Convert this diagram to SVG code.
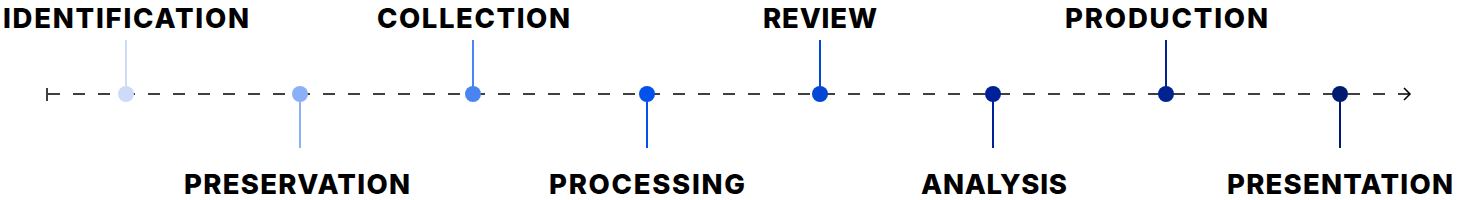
<svg xmlns="http://www.w3.org/2000/svg" width="1459" height="200" viewBox="0 0 1459 200">
<style>
.lbl{font-family:Inter,"Liberation Sans",Arial,sans-serif;font-weight:800;font-size:27.5px;fill:#000;text-anchor:middle}
.stem{stroke-width:2;fill:none}
.axis{stroke:#000;stroke-width:1.5;fill:none}
</style>
<rect width="1459" height="200" fill="#fff"/>
<g id="connectors">
<line class="axis" x1="48" y1="94" x2="1410" y2="94" stroke-dasharray="12 13"/>
<line class="axis" x1="47" y1="88" x2="47" y2="101" stroke-width="1.8"/>
<polyline class="axis" points="1404,88 1410,94 1404,100" stroke-width="1.8"/>
</g>
<g id="identification">
<line class="stem" x1="126" y1="40" x2="126" y2="94" stroke="#cddbf9"/>
<circle cx="126" cy="94" r="8" fill="#cddbf9"/>
<text class="lbl" x="126" y="28" textLength="246" lengthAdjust="spacing">IDENTIFICATION</text>
</g>
<g id="preservation">
<line class="stem" x1="300" y1="94" x2="300" y2="148" stroke="#8cb0f8"/>
<circle cx="300" cy="94" r="8" fill="#8cb0f8"/>
<text class="lbl" x="297" y="194" textLength="226" lengthAdjust="spacing">PRESERVATION</text>
</g>
<g id="collection">
<line class="stem" x1="473" y1="40" x2="473" y2="94" stroke="#4a84f2"/>
<circle cx="473" cy="94" r="8" fill="#4a84f2"/>
<text class="lbl" x="473.5" y="28" textLength="193" lengthAdjust="spacing">COLLECTION</text>
</g>
<g id="processing">
<line class="stem" x1="647" y1="94" x2="647" y2="148" stroke="#0052ea"/>
<circle cx="647" cy="94" r="8" fill="#0052ea"/>
<text class="lbl" x="647" y="194" textLength="196" lengthAdjust="spacing">PROCESSING</text>
</g>
<g id="review">
<line class="stem" x1="820" y1="40" x2="820" y2="94" stroke="#0446d6"/>
<circle cx="820" cy="94" r="8" fill="#0446d6"/>
<text class="lbl" x="820" y="28" textLength="114" lengthAdjust="spacing">REVIEW</text>
</g>
<g id="analysis">
<line class="stem" x1="993" y1="94" x2="993" y2="148" stroke="#00209a"/>
<circle cx="993" cy="94" r="8" fill="#00209a"/>
<text class="lbl" x="994" y="194" textLength="146" lengthAdjust="spacing">ANALYSIS</text>
</g>
<g id="production">
<line class="stem" x1="1166" y1="40" x2="1166" y2="94" stroke="#00238f"/>
<circle cx="1166" cy="94" r="8" fill="#00238f"/>
<text class="lbl" x="1166.5" y="28" textLength="203" lengthAdjust="spacing">PRODUCTION</text>
</g>
<g id="presentation">
<line class="stem" x1="1340" y1="94" x2="1340" y2="148" stroke="#001a70"/>
<circle cx="1340" cy="94" r="8" fill="#001a70"/>
<text class="lbl" x="1340" y="194" textLength="226" lengthAdjust="spacing">PRESENTATION</text>
</g>
</svg>
